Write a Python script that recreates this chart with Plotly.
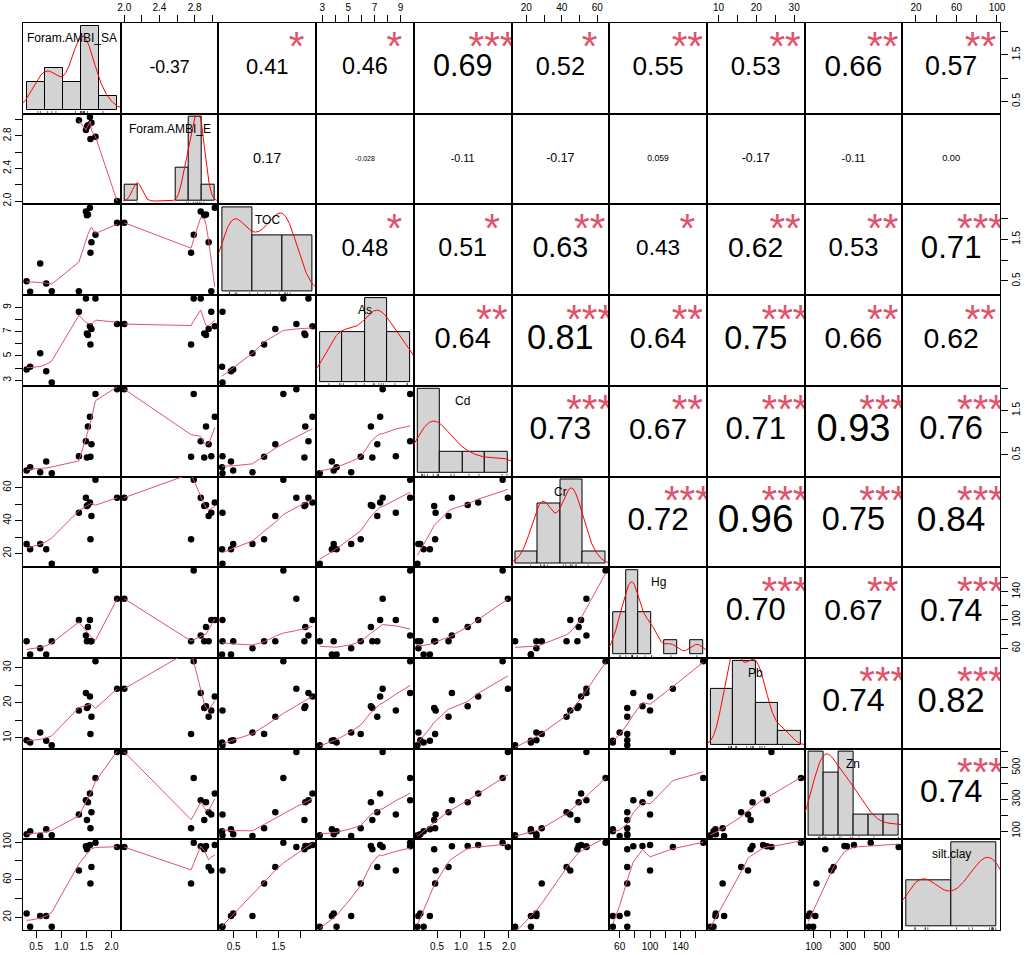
import numpy as np
import plotly.graph_objects as go
from plotly.subplots import make_subplots

names = ["Foram.AMBI_SA", "Foram.AMBI_E", "TOC", "As", "Cd", "Cr", "Hg", "Pb", "Zn", "silt.clay"]

# one value per sample (14 samples), None = missing
foram_sa = [0.31, 0.38, 0.58, 0.70, 0.81, 1.35, 1.49, 1.51, 1.53, 1.57, 1.58, 1.60, 1.68, 2.11]
foram_e = [None, None, None, None, None, 2.99, 2.87, 2.91, 2.93, 3.03, 2.76, 2.96, 2.79, 2.00]
toc = [0.49, 0.24, 0.92, 0.44, 0.25, 0.25, 2.17, 2.08, 2.10, 2.26, 1.18, 1.43, 1.61, 1.90]
arsenic = [3.88, 4.10, 5.22, 3.74, 2.81, 8.64, 9.74, 6.84, 6.73, 7.44, 5.95, 7.22, 9.74, 7.63]
cadmium = [0.15, 0.22, 0.11, 0.35, 0.09, 0.47, 0.81, 0.44, 1.14, 1.36, 0.46, 0.74, 1.87, 1.98]
chromium = [25.7, 22.6, 25.7, 22.6, 13.7, 44.8, 53.9, 48.8, 49.5, 50.9, 28.7, 42.7, 64.7, 53.9]
mercury = [70, 51, 60, 51, 70, 100, 78, 70, 90, 100, 70, 70, 170, 130]
lead = [9.3, 8.7, 11.5, 9.2, 7.9, 17.8, 22.8, 18.5, 19.0, 21.8, 11.1, 16.0, 31.8, 24.0]
zinc = [79, 98, 69, 111, 73, 205, 295, 169, 281, 337, 117, 218, 435, 599]
silt_clay = [24.2, 10.1, 21.4, 21.4, 10.1, 69.7, 95.5, 92.4, 95.8, 96.9, 56.0, 73.5, 99.4, 94.7]

# histogram breaks (start, end, width) per variable
hist_breaks = [(0, 2.5, 0.5), (1.8, 3.2, 0.2), (0, 3, 1), (2, 10, 2), (0, 2, 0.5),
               (0, 80, 20), (40, 180, 20), (0, 40, 10), (0, 600, 100), (0, 100, 50)]

# axis ticks
tick_vals = [[0.5, 1, 1.5, 2], [2.0, 2.2, 2.4, 2.6, 2.8, 3.0], [0.5, 1, 1.5, 2], [3, 4, 5, 6, 7, 8, 9],
             [0.5, 1, 1.5, 2], [20, 30, 40, 50, 60], [60, 80, 100, 120, 140, 160], [10, 15, 20, 25, 30],
             [100, 200, 300, 400, 500, 600], [20, 40, 60, 80, 100]]
tick_text_x = [["0.5", "1.0", "1.5", "2.0"], ["2.0", "", "2.4", "", "2.8", ""], ["0.5", "", "1.5", ""],
               ["3", "", "5", "", "7", "", "9"], ["0.5", "1.0", "1.5", "2.0"], ["20", "", "40", "", "60"],
               ["60", "", "100", "", "140", ""], ["10", "", "20", "", "30"],
               ["100", "", "300", "", "500", ""], ["20", "", "60", "", "100"]]
tick_text_y = [["0.5", "", "1.5", ""], ["2.0", "", "2.4", "", "2.8", ""], ["0.5", "", "1.5", ""],
               ["3", "", "5", "", "7", "", "9"], ["0.5", "", "1.5", ""], ["20", "", "40", "", "60"],
               ["60", "", "100", "", "140", ""], ["10", "", "20", "", "30"],
               ["100", "", "300", "", "500", ""], ["20", "", "60", "", "100"]]

# upper triangle: correlation labels and significance stars
cor_text = [
    ["-0.37", "0.41", "0.46", "0.69", "0.52", "0.55", "0.53", "0.66", "0.57"],
    ["0.17", "-0.028", "-0.11", "-0.17", "0.059", "-0.17", "-0.11", "0.00"],
    ["0.48", "0.51", "0.63", "0.43", "0.62", "0.53", "0.71"],
    ["0.64", "0.81", "0.64", "0.75", "0.66", "0.62"],
    ["0.73", "0.67", "0.71", "0.93", "0.76"],
    ["0.72", "0.96", "0.75", "0.84"],
    ["0.70", "0.67", "0.74"],
    ["0.74", "0.82"],
    ["0.74"],
]
cor_stars = [
    ["", "*", "*", "***", "*", "**", "**", "**", "**"],
    ["", "", "", "", "", "", "", ""],
    ["*", "*", "**", "*", "**", "**", "***"],
    ["**", "***", "**", "***", "**", "**"],
    ["***", "**", "***", "***", "***"],
    ["***", "***", "***", "***"],
    ["***", "**", "***"],
    ["***", "***"],
    ["***"],
]

vals = [np.array([np.nan if v is None else v for v in col], dtype=float)
        for col in (foram_sa, foram_e, toc, arsenic, cadmium, chromium, mercury, lead, zinc, silt_clay)]

FONT = "Liberation Sans, Arial, Helvetica, sans-serif"
W_FIG, H_FIG = 1025, 955
ML, MR, MT, MB = 23, 25, 23, 25
N = 10
PW = (W_FIG - ML - MR) / N
PH = (H_FIG - MT - MB) / N


def padded(v):
    v = v[np.isfinite(v)]
    lo, hi = v.min(), v.max()
    d = (hi - lo) * 0.04
    return [lo - d, hi + d]


def density(v):
    v = v[np.isfinite(v)]
    n = len(v)
    q75, q25 = np.percentile(v, [75, 25])
    lo = min(v.std(ddof=1), (q75 - q25) / 1.34)
    bw = 0.9 * lo * n ** -0.2
    grid = np.linspace(v.min() - 3 * bw, v.max() + 3 * bw, 512)
    d = np.exp(-0.5 * ((grid[:, None] - v[None, :]) / bw) ** 2).sum(1) / (n * bw * np.sqrt(2 * np.pi))
    return grid, d


def lowess(x, y, f=2 / 3, iters=3):
    o = np.argsort(x, kind="mergesort")
    x = x[o]
    y = y[o]
    n = len(x)
    ns = max(2, min(n, int(f * n + 1e-7)))
    delta = 0.01 * (x[-1] - x[0])
    rw = np.ones(n)
    ys = np.zeros(n)

    def lowest(xs, nleft, nright, userw):
        h = max(xs - x[nleft], x[nright] - xs)
        h9, h1 = 0.999 * h, 0.001 * h
        w = np.zeros(n)
        a = 0.0
        j = nleft
        while j < n:
            r = abs(x[j] - xs)
            if r <= h9:
                w[j] = 1.0 if r <= h1 else (1 - (r / h) ** 3) ** 3
                if userw:
                    w[j] *= rw[j]
                a += w[j]
            elif x[j] > xs:
                break
            j += 1
        nrt = j - 1
        if a <= 0:
            return None
        sl = slice(nleft, nrt + 1)
        w[sl] /= a
        if h > 0:
            a = np.sum(w[sl] * x[sl])
            b = xs - a
            c = np.sum(w[sl] * (x[sl] - a) ** 2)
            if np.sqrt(c) > 0.001 * (x[-1] - x[0]):
                b /= c
                w[sl] *= b * (x[sl] - a) + 1
        return np.sum(w[sl] * y[sl])

    for it in range(iters + 1):
        nleft, nright = 0, ns - 1
        last = -1
        i = 0
        while True:
            while nright < n - 1 and x[i] - x[nleft] > x[nright + 1] - x[i]:
                nleft += 1
                nright += 1
            fit = lowest(x[i], nleft, nright, it > 0)
            ys[i] = y[i] if fit is None else fit
            if last < i - 1:
                denom = x[i] - x[last]
                for j in range(last + 1, i):
                    alpha = (x[j] - x[last]) / denom
                    ys[j] = alpha * ys[i] + (1 - alpha) * ys[last]
            last = i
            cut = x[last] + delta
            i = last + 1
            while i < n:
                if x[i] > cut:
                    break
                if x[i] == x[last]:
                    ys[i] = ys[last]
                    last = i
                i += 1
            i = max(last + 1, i - 1)
            if last >= n - 1:
                break
        res = y - ys
        if it == iters:
            break
        sc = np.mean(np.abs(res))
        cmad = 6 * np.median(np.abs(res))
        if cmad < 1e-7 * sc:
            break
        r = np.abs(res)
        rw = np.where(r <= 0.001 * cmad, 1.0,
                      np.where(r > 0.999 * cmad, 0.0, (1 - (r / cmad) ** 2) ** 2))
    return x, ys


def em(s):
    return sum(0.556 if ch.isdigit() else 0.278 if ch == "." else 0.333 for ch in s)


fig = make_subplots(rows=N, cols=N, horizontal_spacing=0, vertical_spacing=0)

base_axis = dict(showline=True, mirror=True, linecolor="black", linewidth=1, showgrid=False,
                 zeroline=False, showticklabels=False, ticks="", fixedrange=True, automargin=False)
tick_style = dict(showticklabels=True, ticks="outside", ticklen=7, tickwidth=1, tickcolor="black",
                  tickfont=dict(family=FONT, size=10, color="black"))

layout_axes = {}
annotations = []
for r in range(1, N + 1):
    for c in range(1, N + 1):
        k = (r - 1) * N + c
        s = "" if k == 1 else str(k)
        i, j = r - 1, c - 1
        xa = dict(base_axis)
        ya = dict(base_axis)
        if r == c:
            start, end, size = hist_breaks[i]
            v = vals[i][np.isfinite(vals[i])]
            edges = np.arange(start, end + size / 2, size)
            counts = [np.sum((v > edges[q]) & (v <= edges[q + 1])) + (np.sum(v == edges[0]) if q == 0 else 0)
                      for q in range(len(edges) - 1)]
            ymax = max(counts) / (len(v) * size)
            xr = [start - 0.04 * (end - start), end + 0.04 * (end - start)]
            yr = [-0.04 * ymax, 1.04 * ymax]
            eps = size * 1e-6
            fig.add_trace(go.Histogram(x=v, xbins=dict(start=start + eps, end=end + eps, size=size),
                                       histnorm="probability density",
                                       marker=dict(color="#D3D3D3", line=dict(color="black", width=1)),
                                       hoverinfo="skip"), row=r, col=c)
            gx, gy = density(v)
            fig.add_trace(go.Scatter(x=gx, y=gy, mode="lines", line=dict(color="#FF0000", width=1),
                                     hoverinfo="skip"), row=r, col=c)
            rug_x, rug_y = [], []
            y0 = yr[0]
            y1 = yr[0] + 0.03 * (yr[1] - yr[0])
            for val in v:
                rug_x += [val, val, None]
                rug_y += [y0, y1, None]
            fig.add_trace(go.Scatter(x=rug_x, y=rug_y, mode="lines", line=dict(color="black", width=0.6),
                                     hoverinfo="skip"), row=r, col=c)
            annotations.append(dict(text=names[i], xref=f"x{s} domain", yref=f"y{s} domain",
                                    x=0.5, y=0.833, xanchor="center", yanchor="middle", showarrow=False,
                                    font=dict(family=FONT, size=12, color="black")))
        else:
            xr = padded(vals[j])
            yr = padded(vals[i])
            if r > c:
                ok = np.isfinite(vals[j]) & np.isfinite(vals[i])
                px, py = vals[j][ok], vals[i][ok]
                fig.add_trace(go.Scatter(x=px, y=py, mode="markers",
                                         marker=dict(color="black", size=6.5),
                                         cliponaxis=True, hoverinfo="skip"), row=r, col=c)
                lx, ly = lowess(px, py)
                fig.add_trace(go.Scatter(x=lx, y=ly, mode="lines", line=dict(color="#DF536B", width=1),
                                         hoverinfo="skip"), row=r, col=c)
            else:
                t = cor_text[i][j - i - 1]
                st = cor_stars[i][j - i - 1]
                size_num = 0.8 * PW * (abs(float(t)) + 0.3) / 1.3 / em(t)
                size_star = 0.8 * PW / em(t)
                xm = xr[0] + 0.5 * (xr[1] - xr[0])
                ym = yr[0] + 0.5 * (yr[1] - yr[0])
                fig.add_trace(go.Scatter(x=[xm], y=[ym], mode="text", text=[t],
                                         textposition="middle center",
                                         textfont=dict(family=FONT, size=size_num, color="black"),
                                         cliponaxis=True, hoverinfo="skip"), row=r, col=c)
                if st:
                    xs = xr[0] + 0.8 * (xr[1] - xr[0])
                    ys = yr[0] + (0.8 - 0.23 * size_star / PH) * (yr[1] - yr[0])
                    fig.add_trace(go.Scatter(x=[xs], y=[ys], mode="text", text=[st],
                                             textposition="middle center",
                                             textfont=dict(family=FONT, size=size_star, color="#DF536B"),
                                             cliponaxis=True, hoverinfo="skip"), row=r, col=c)
        xa["range"] = xr
        ya["range"] = yr
        # outer axes, alternating sides as in pairs()
        if r == 1 and c % 2 == 0:
            xa.update(tick_style, side="top", tickvals=tick_vals[j], ticktext=tick_text_x[j])
        if r == N and c % 2 == 1:
            xa.update(tick_style, side="bottom", tickvals=tick_vals[j], ticktext=tick_text_x[j])
        if c == 1 and r % 2 == 0:
            ya.update(tick_style, side="left", tickangle=-90, tickvals=tick_vals[i], ticktext=tick_text_y[i])
        if c == N and r % 2 == 1:
            ya.update(tick_style, side="right", tickangle=-90, tickvals=tick_vals[i], ticktext=tick_text_y[i])
        layout_axes[f"xaxis{s}"] = xa
        layout_axes[f"yaxis{s}"] = ya

fig.update_layout(layout_axes)
fig.update_layout(
    width=W_FIG, height=H_FIG,
    margin=dict(l=ML, r=MR, t=MT, b=MB),
    plot_bgcolor="white", paper_bgcolor="white",
    showlegend=False, bargap=0,
    font=dict(family=FONT, color="black"),
    annotations=annotations,
)

# drop the default page margin so the figure sits at the window's top-left corner
fig.write_html("out.html", config={"displayModeBar": False},
               post_script="document.body.style.margin='0';document.body.style.overflow='hidden';")
